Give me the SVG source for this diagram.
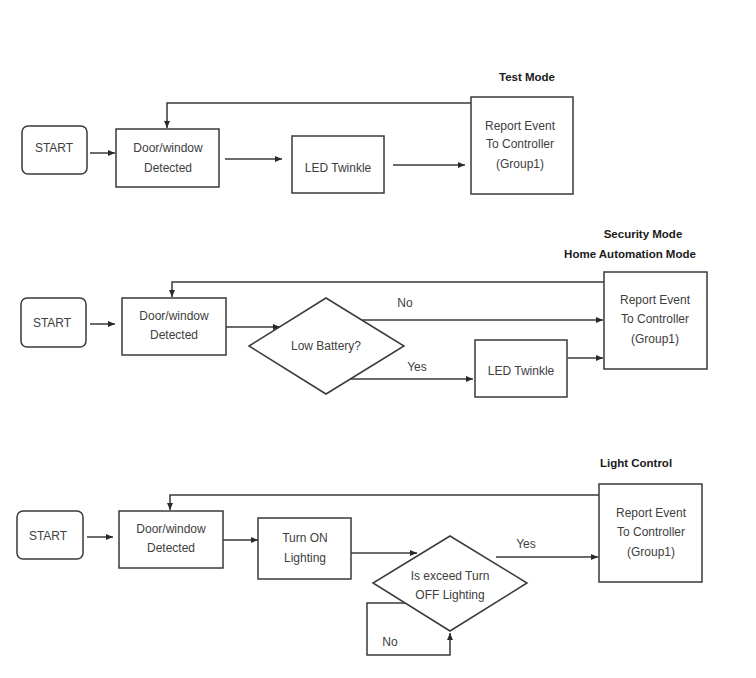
<svg xmlns="http://www.w3.org/2000/svg" width="756" height="678" viewBox="0 0 756 678">
<style>
.b{fill:#fff;stroke:#3a3a3a;stroke-width:1.5}
.c{fill:none;stroke:#3a3a3a;stroke-width:1.5}
.t{font-family:"Liberation Sans",Arial,sans-serif;font-size:12px;fill:#404040;text-anchor:middle}
.h{font-family:"Liberation Sans",Arial,sans-serif;font-size:11.5px;font-weight:bold;fill:#1a1a1a;text-anchor:middle}
</style>
<defs>
<marker id="a" markerWidth="8" markerHeight="8" refX="7" refY="4" orient="auto" markerUnits="userSpaceOnUse">
<path d="M0,1 L7,4 L0,7 Z" fill="#2a2a2a"/>
</marker>
</defs>
<rect width="756" height="678" fill="#fff"/>

<text class="h" x="527" y="81">Test Mode</text>
<text class="h" x="643" y="238">Security Mode</text>
<text class="h" x="630" y="258">Home Automation Mode</text>
<text class="h" x="636" y="467">Light Control</text>

<g id="connectors">
<!-- section 1 -->
<path class="c" d="M90,153 H115" marker-end="url(#a)"/>
<path class="c" d="M225,159 H282" marker-end="url(#a)"/>
<path class="c" d="M393,165 H465" marker-end="url(#a)"/>
<path class="c" d="M471,103 H167 V128" marker-end="url(#a)"/>
<!-- section 2 -->
<path class="c" d="M90,324 H115" marker-end="url(#a)"/>
<path class="c" d="M226,327 H280" marker-end="url(#a)"/>
<path class="c" d="M362,320 H603" marker-end="url(#a)"/>
<path class="c" d="M350,379 H473" marker-end="url(#a)"/>
<path class="c" d="M568,358 H603" marker-end="url(#a)"/>
<path class="c" d="M604,282 H172 V297" marker-end="url(#a)"/>
<!-- section 3 -->
<path class="c" d="M87,537 H113" marker-end="url(#a)"/>
<path class="c" d="M223,540 H258" marker-end="url(#a)"/>
<path class="c" d="M351,553 H417" marker-end="url(#a)"/>
<path class="c" d="M496,557 H598" marker-end="url(#a)"/>
<path class="c" d="M599,495 H170 V510" marker-end="url(#a)"/>
<path class="c" d="M406,603 H367 V655 H450 V633" marker-end="url(#a)"/>
</g>

<text class="t" x="405" y="307">No</text>
<text class="t" x="417" y="371">Yes</text>
<text class="t" x="526" y="548">Yes</text>
<text class="t" x="390" y="646">No</text>

<!-- section 1 nodes -->
<g id="start1"><rect class="b" x="22" y="126" width="65" height="48" rx="6"/><text class="t" x="54" y="152">START</text></g>
<g id="door1"><rect class="b" x="116" y="129" width="103" height="58"/><text class="t" x="168" y="152">Door/window</text><text class="t" x="168" y="172">Detected</text></g>
<g id="led1"><rect class="b" x="292" y="136" width="92" height="57"/><text class="t" x="338" y="172">LED Twinkle</text></g>
<g id="report1"><rect class="b" x="471" y="97" width="102" height="97"/><text class="t" x="520" y="130">Report Event</text><text class="t" x="520" y="148">To Controller</text><text class="t" x="520" y="168">(Group1)</text></g>

<!-- section 2 nodes -->
<g id="start2"><rect class="b" x="21" y="298" width="65" height="49" rx="6"/><text class="t" x="52" y="327">START</text></g>
<g id="door2"><rect class="b" x="122" y="298" width="104" height="57"/><text class="t" x="174" y="320">Door/window</text><text class="t" x="174" y="339">Detected</text></g>
<g id="battery"><polygon class="b" points="326,298 404,346 326,394 249,346"/><text class="t" x="326" y="350">Low Battery?</text></g>
<g id="led2"><rect class="b" x="475" y="340" width="92" height="57"/><text class="t" x="521" y="375">LED Twinkle</text></g>
<g id="report2"><rect class="b" x="604" y="272" width="103" height="97"/><text class="t" x="655" y="304">Report Event</text><text class="t" x="655" y="323">To Controller</text><text class="t" x="655" y="343">(Group1)</text></g>

<!-- section 3 nodes -->
<g id="start3"><rect class="b" x="17" y="511" width="66" height="48" rx="6"/><text class="t" x="48" y="540">START</text></g>
<g id="door3"><rect class="b" x="119" y="511" width="104" height="57"/><text class="t" x="171" y="533">Door/window</text><text class="t" x="171" y="552">Detected</text></g>
<g id="turnon"><rect class="b" x="258" y="518" width="93" height="61"/><text class="t" x="305" y="542">Turn ON</text><text class="t" x="305" y="562">Lighting</text></g>
<g id="exceed"><polygon class="b" points="450,536 527,583 450,631 373,583"/><text class="t" x="450" y="580">Is exceed Turn</text><text class="t" x="450" y="599">OFF Lighting</text></g>
<g id="report3"><rect class="b" x="599" y="484" width="103" height="98"/><text class="t" x="651" y="517">Report Event</text><text class="t" x="651" y="536">To Controller</text><text class="t" x="651" y="556">(Group1)</text></g>
</svg>
